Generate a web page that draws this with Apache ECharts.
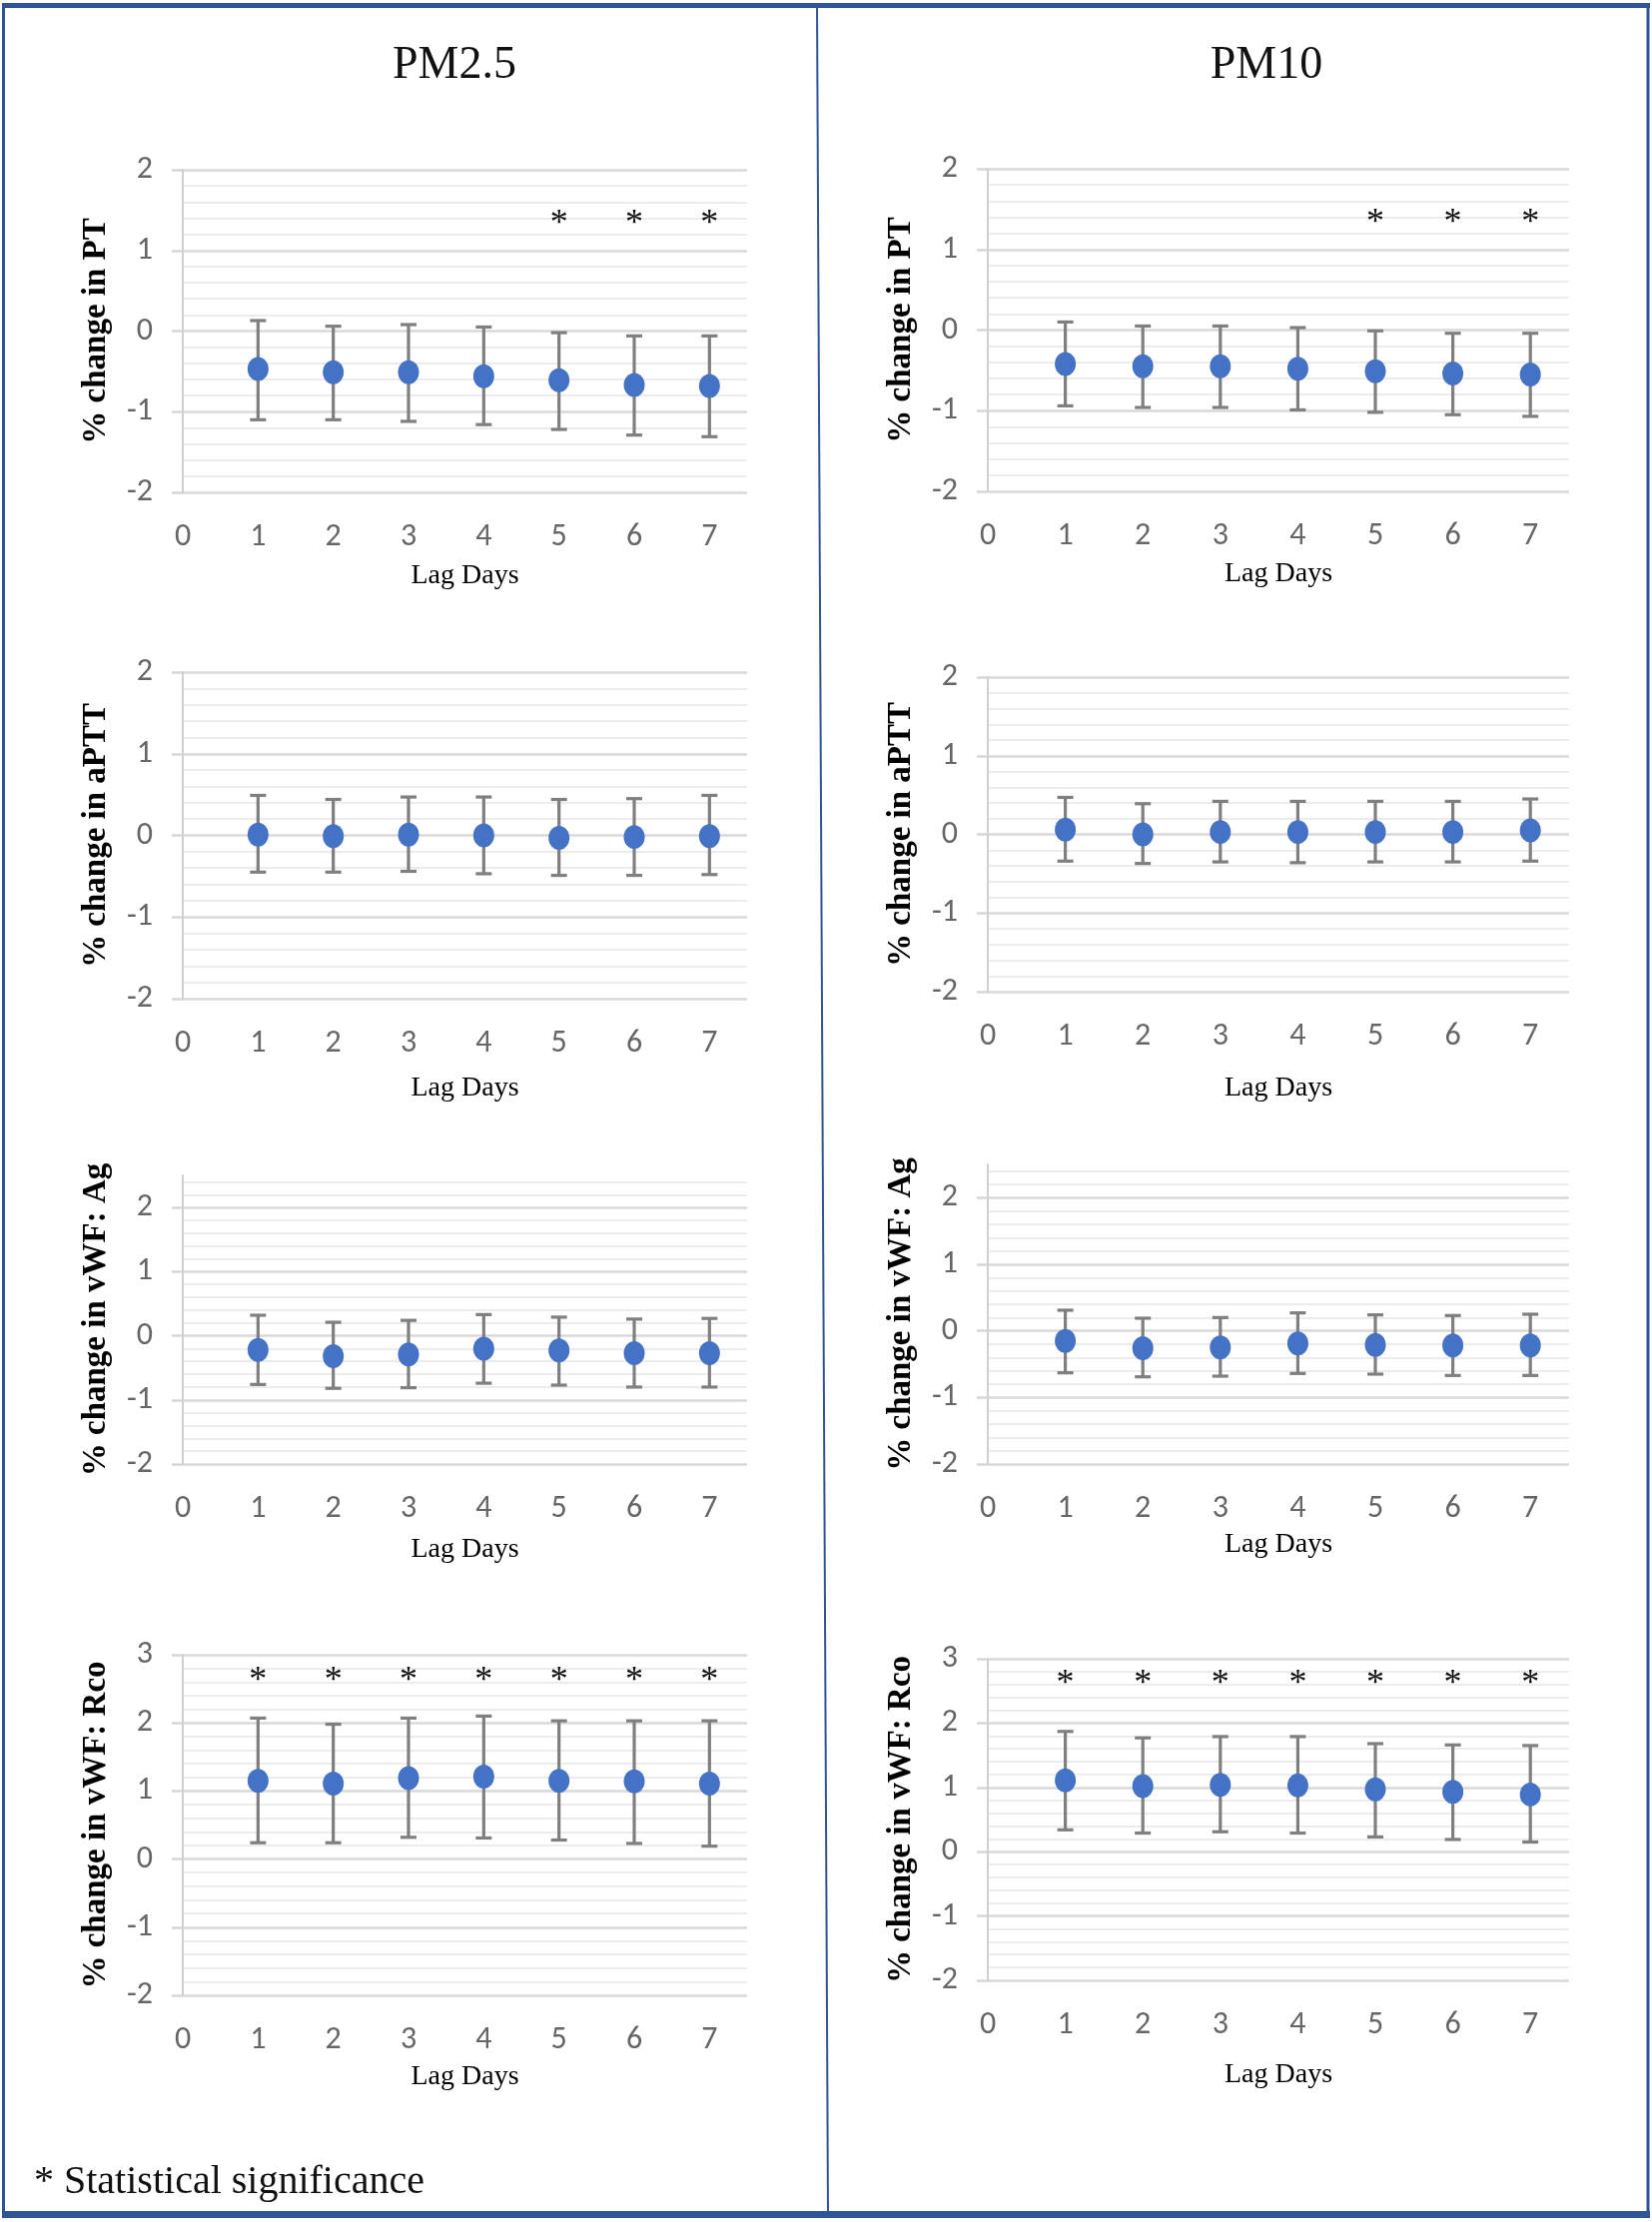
<!DOCTYPE html>
<html>
<head>
<meta charset="utf-8">
<script src="https://cdn.jsdelivr.net/npm/echarts@6/dist/echarts.min.js"></script>
<style>
html,body{margin:0;padding:0;background:#fff;}
#chart{width:1654px;height:2225px;}
</style>
</head>
<body>
<div id="chart"></div>
<script>
// ---------- data ----------
const lagDays = [1, 2, 3, 4, 5, 6, 7];
const xTickLabels = [0, 1, 2, 3, 4, 5, 6, 7];
const yTicksStd = [-2, -1, 0, 1, 2];
const yTicksRco = [-2, -1, 0, 1, 2, 3];
const columnTitles = ['PM2.5', 'PM10'];
const outcomeNames = ['% change in PT', '% change in aPTT', '% change in vWF: Ag', '% change in vWF: Rco'];
const footnote = '* Statistical significance';

// PM2.5
const pm25_PT_est = [-0.47, -0.51, -0.51, -0.56, -0.61, -0.67, -0.68];
const pm25_PT_lo  = [-1.10, -1.10, -1.12, -1.16, -1.22, -1.29, -1.31];
const pm25_PT_hi  = [0.13, 0.06, 0.08, 0.05, -0.02, -0.06, -0.06];
const pm25_PT_sig = [0, 0, 0, 0, 1, 1, 1];

const pm25_aPTT_est = [0.01, -0.01, 0.01, 0.00, -0.03, -0.02, -0.01];
const pm25_aPTT_lo  = [-0.45, -0.45, -0.44, -0.47, -0.49, -0.49, -0.48];
const pm25_aPTT_hi  = [0.49, 0.44, 0.47, 0.47, 0.44, 0.45, 0.49];
const pm25_aPTT_sig = [0, 0, 0, 0, 0, 0, 0];

const pm25_Ag_est = [-0.22, -0.32, -0.29, -0.20, -0.23, -0.27, -0.27];
const pm25_Ag_lo  = [-0.76, -0.82, -0.81, -0.74, -0.77, -0.80, -0.80];
const pm25_Ag_hi  = [0.32, 0.21, 0.24, 0.33, 0.29, 0.26, 0.27];
const pm25_Ag_sig = [0, 0, 0, 0, 0, 0, 0];

const pm25_Rco_est = [1.15, 1.11, 1.19, 1.21, 1.15, 1.14, 1.11];
const pm25_Rco_lo  = [0.24, 0.24, 0.32, 0.31, 0.28, 0.23, 0.19];
const pm25_Rco_hi  = [2.07, 1.98, 2.07, 2.10, 2.03, 2.03, 2.03];
const pm25_Rco_sig = [1, 1, 1, 1, 1, 1, 1];

// PM10
const pm10_PT_est = [-0.42, -0.45, -0.45, -0.48, -0.51, -0.54, -0.55];
const pm10_PT_lo  = [-0.94, -0.96, -0.96, -0.99, -1.02, -1.05, -1.07];
const pm10_PT_hi  = [0.10, 0.05, 0.05, 0.03, -0.01, -0.04, -0.04];
const pm10_PT_sig = [0, 0, 0, 0, 1, 1, 1];

const pm10_aPTT_est = [0.06, 0.00, 0.03, 0.03, 0.03, 0.03, 0.05];
const pm10_aPTT_lo  = [-0.34, -0.37, -0.35, -0.36, -0.35, -0.35, -0.34];
const pm10_aPTT_hi  = [0.47, 0.39, 0.42, 0.42, 0.42, 0.42, 0.45];
const pm10_aPTT_sig = [0, 0, 0, 0, 0, 0, 0];

const pm10_Ag_est = [-0.15, -0.26, -0.25, -0.19, -0.21, -0.22, -0.22];
const pm10_Ag_lo  = [-0.63, -0.69, -0.68, -0.64, -0.65, -0.67, -0.67];
const pm10_Ag_hi  = [0.31, 0.19, 0.20, 0.27, 0.24, 0.23, 0.25];
const pm10_Ag_sig = [0, 0, 0, 0, 0, 0, 0];

const pm10_Rco_est = [1.11, 1.02, 1.04, 1.03, 0.97, 0.93, 0.89];
const pm10_Rco_lo  = [0.34, 0.29, 0.31, 0.29, 0.23, 0.19, 0.15];
const pm10_Rco_hi  = [1.87, 1.77, 1.79, 1.79, 1.68, 1.66, 1.65];
const pm10_Rco_sig = [1, 1, 1, 1, 1, 1, 1];

// ---------- layout / styling ----------
const TICK_FONT = 'Carlito, "Liberation Sans Narrow", "Liberation Sans", sans-serif';
const SERIF = '"Liberation Serif", "Times New Roman", serif';
const BLUE = '#2F5597';
const L = {left: 183, width: 565};
const R = {left: 989, width: 582};

const panels = [
  {est: pm25_PT_est, lo: pm25_PT_lo, hi: pm25_PT_hi, sig: pm25_PT_sig, name: outcomeNames[0], ymin: -2, ymax: 2, yTicks: yTicksStd, starY: 1.4,
   grid: {left: L.left, width: L.width, top: 170, height: 323}, lagGap: 70},
  {est: pm10_PT_est, lo: pm10_PT_lo, hi: pm10_PT_hi, sig: pm10_PT_sig, name: outcomeNames[0], ymin: -2, ymax: 2, yTicks: yTicksStd, starY: 1.4,
   grid: {left: R.left, width: R.width, top: 169, height: 323}, lagGap: 69},
  {est: pm25_aPTT_est, lo: pm25_aPTT_lo, hi: pm25_aPTT_hi, sig: pm25_aPTT_sig, name: outcomeNames[1], ymin: -2, ymax: 2, yTicks: yTicksStd, starY: 1.4,
   grid: {left: L.left, width: L.width, top: 673, height: 327}, lagGap: 76},
  {est: pm10_aPTT_est, lo: pm10_aPTT_lo, hi: pm10_aPTT_hi, sig: pm10_aPTT_sig, name: outcomeNames[1], ymin: -2, ymax: 2, yTicks: yTicksStd, starY: 1.4,
   grid: {left: R.left, width: R.width, top: 678, height: 315}, lagGap: 83},
  {est: pm25_Ag_est, lo: pm25_Ag_lo, hi: pm25_Ag_hi, sig: pm25_Ag_sig, name: outcomeNames[2], ymin: -2, ymax: 2.5, yTicks: yTicksStd, starY: 1.4,
   grid: {left: L.left, width: L.width, top: 1177, height: 289}, lagGap: 72},
  {est: pm10_Ag_est, lo: pm10_Ag_lo, hi: pm10_Ag_hi, sig: pm10_Ag_sig, name: outcomeNames[2], ymin: -2, ymax: 2.5, yTicks: yTicksStd, starY: 1.4,
   grid: {left: R.left, width: R.width, top: 1166, height: 300}, lagGap: 67},
  {est: pm25_Rco_est, lo: pm25_Rco_lo, hi: pm25_Rco_hi, sig: pm25_Rco_sig, name: outcomeNames[3], ymin: -2, ymax: 3, yTicks: yTicksRco, starY: 2.7,
   grid: {left: L.left, width: L.width, top: 1657, height: 341}, lagGap: 68},
  {est: pm10_Rco_est, lo: pm10_Rco_lo, hi: pm10_Rco_hi, sig: pm10_Rco_sig, name: outcomeNames[3], ymin: -2, ymax: 3, yTicks: yTicksRco, starY: 2.7,
   grid: {left: R.left, width: R.width, top: 1661, height: 322}, lagGap: 81}
];

const grids = [], xAxes = [], yAxes = [], series = [];

panels.forEach((p, i) => {
  grids.push(Object.assign({containLabel: false}, p.grid));
  xAxes.push({
    type: 'value', gridIndex: i, min: 0, max: 7.5, interval: 1,
    axisLine: {show: false}, axisTick: {show: false}, splitLine: {show: false},
    axisLabel: {customValues: xTickLabels, margin: 29, color: '#666666', fontSize: 32, fontFamily: TICK_FONT},
    name: 'Lag Days', nameLocation: 'middle', nameGap: p.lagGap,
    nameTextStyle: {fontFamily: SERIF, fontSize: 28, color: '#000'}
  });
  yAxes.push({
    type: 'value', gridIndex: i, min: p.ymin, max: p.ymax, interval: 1,
    axisLine: {show: true, lineStyle: {color: '#cfcfcf', width: 2}},
    axisTick: {show: true, inside: false, length: 11, customValues: p.yTicks, lineStyle: {color: '#d6d6d6', width: 2.5}},
    axisLabel: {customValues: p.yTicks, margin: 30, color: '#666666', fontSize: 32, fontFamily: TICK_FONT},
    splitLine: {show: true, lineStyle: {color: '#d9d9d9', width: 2.5}},
    minorTick: {show: false, splitNumber: 5},
    minorSplitLine: {show: true, lineStyle: {color: '#ececec', width: 2}},
    name: p.name, nameLocation: 'middle', nameGap: 70,
    nameTextStyle: {fontFamily: SERIF, fontSize: 33, fontWeight: 'bold', color: '#000'}
  });

  // error bars
  series.push({
    type: 'custom', xAxisIndex: i, yAxisIndex: i, z: 2,
    data: lagDays.map((d, k) => [d, p.lo[k], p.hi[k]]),
    renderItem: function (params, api) {
      const x = api.value(0);
      const top = api.coord([x, api.value(2)]);
      const bot = api.coord([x, api.value(1)]);
      const c = 8;
      const st = {stroke: '#7f7f7f', lineWidth: 3.2};
      return {type: 'group', children: [
        {type: 'line', shape: {x1: top[0], y1: top[1], x2: bot[0], y2: bot[1]}, style: st},
        {type: 'line', shape: {x1: top[0] - c, y1: top[1], x2: top[0] + c, y2: top[1]}, style: st},
        {type: 'line', shape: {x1: bot[0] - c, y1: bot[1], x2: bot[0] + c, y2: bot[1]}, style: st}
      ]};
    },
    silent: true
  });
  // point estimates
  series.push({
    type: 'scatter', xAxisIndex: i, yAxisIndex: i, z: 3,
    symbol: 'path://M50,0 A50,50 0 1,1 50,100 A50,50 0 1,1 50,0 Z',
    symbolSize: [21, 24],
    itemStyle: {color: '#4472C4', opacity: 1},
    data: lagDays.map((d, k) => [d, p.est[k]]),
    silent: true
  });
  // significance stars
  series.push({
    type: 'custom', xAxisIndex: i, yAxisIndex: i, z: 4,
    data: lagDays.filter((d, k) => p.sig[k]).map(d => [d, p.starY]),
    renderItem: function (params, api) {
      const pt = api.coord([api.value(0), api.value(1)]);
      return {type: 'text', x: pt[0], y: pt[1] + 6, style: {text: '*', font: '36px ' + SERIF, fill: '#111', align: 'center', verticalAlign: 'middle'}};
    },
    silent: true
  });
});

const graphics = [
  {type: 'rect', shape: {x: 2, y: 3, width: 1650, height: 5}, style: {fill: BLUE}},
  {type: 'rect', shape: {x: 2, y: 2214, width: 1650, height: 7}, style: {fill: BLUE}},
  {type: 'line', shape: {x1: 3.5, y1: 3, x2: 3.5, y2: 2220}, style: {stroke: BLUE, lineWidth: 3}},
  {type: 'line', shape: {x1: 1650, y1: 3, x2: 1650, y2: 2220}, style: {stroke: BLUE, lineWidth: 3}},
  {type: 'line', shape: {x1: 818, y1: 3, x2: 829, y2: 2220}, style: {stroke: BLUE, lineWidth: 2}},
  {type: 'text', x: 455, y: 66, style: {text: columnTitles[0], font: '46px ' + SERIF, fill: '#111', align: 'center', verticalAlign: 'middle'}},
  {type: 'text', x: 1268, y: 66, style: {text: columnTitles[1], font: '46px ' + SERIF, fill: '#111', align: 'center', verticalAlign: 'middle'}},
  {type: 'text', x: 34, y: 2185, style: {text: footnote, font: '40px ' + SERIF, fill: '#111', align: 'left', verticalAlign: 'middle'}}
];

const chart = echarts.init(document.getElementById('chart'), null, {renderer: 'canvas'});
chart.setOption({
  backgroundColor: '#ffffff',
  animation: false,
  grid: grids,
  xAxis: xAxes,
  yAxis: yAxes,
  series: series,
  graphic: graphics
});
</script>
</body>
</html>
